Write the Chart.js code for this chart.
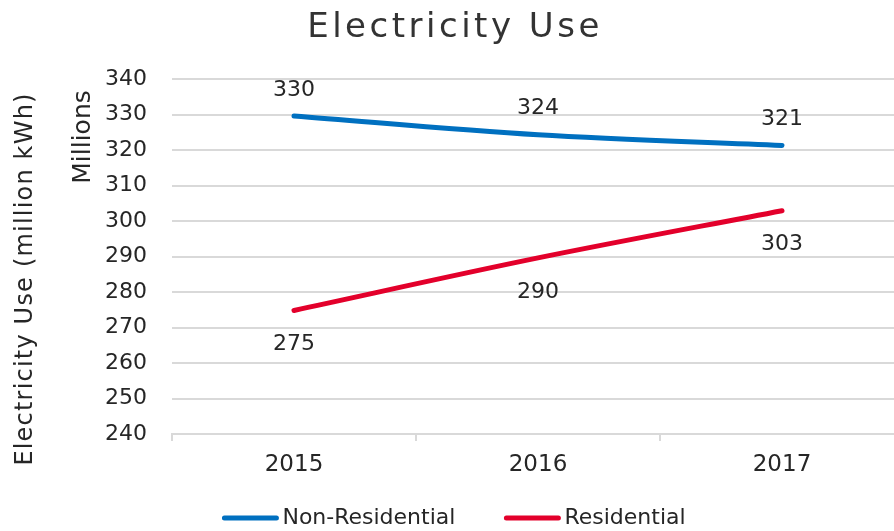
<!DOCTYPE html>
<html lang="en">
<head>
<meta charset="UTF-8">
<title>Electricity Use</title>
<script src="https://cdn.jsdelivr.net/npm/chart.js"></script>
<style>
  html, body { margin: 0; padding: 0; overflow: hidden; background: #fff; }
  #wrap { position: relative; width: 910px; height: 531px; }
</style>
</head>
<body>
<div id="wrap"><canvas id="useChart"></canvas></div>
<script>
const years = ['2015', '2016', '2017'];
const nonResidential = [329.6, 324.3, 321.3];
const residential = [274.8, 289.6, 302.9];
const seriesNames = ['Non-Residential', 'Residential'];
const seriesColors = ['#0070C0', '#E3002B'];
const yMin = 240, yMax = 340, yStep = 10;
const chartTitle = 'Electricity Use';
const axisTitle = 'Electricity Use (million kWh)';
const unitLabel = 'Millions';

const FONT = '"DejaVu Sans", sans-serif';
const TEXT = '#262626';
const GRID = '#d9d9d9';

// title, axis captions, value labels and the legend row
const extras = {
    id: 'extras',
    afterDatasetsDraw(chart) {
        const ctx = chart.ctx;
        ctx.save();
        ctx.fillStyle = TEXT;

        // value labels: above the upper line, below the lower one
        ctx.font = '22px ' + FONT;
        ctx.textAlign = 'center';
        ctx.textBaseline = 'middle';
        chart.data.datasets.forEach((ds, i) => {
            const dy = i === 0 ? -26 : 34;
            chart.getDatasetMeta(i).data.forEach((pt, j) => {
                ctx.fillText(String(Math.round(ds.data[j])), pt.x, pt.y + dy);
            });
        });

        // chart title
        ctx.save();
        ctx.fillStyle = '#333333';
        ctx.font = '34px ' + FONT;
        ctx.letterSpacing = '3.5px';
        ctx.textBaseline = 'alphabetic';
        ctx.fillText(chartTitle, chart.width / 2, 37);
        ctx.restore();

        // rotated axis title
        ctx.save();
        ctx.font = '24px ' + FONT;
        ctx.letterSpacing = '1.2px';
        ctx.textBaseline = 'alphabetic';
        ctx.translate(32, 279);
        ctx.rotate(-Math.PI / 2);
        ctx.fillText(axisTitle, 0, 0);
        ctx.restore();

        // display units caption
        ctx.save();
        ctx.font = '25px ' + FONT;
        ctx.textBaseline = 'alphabetic';
        ctx.translate(90, 137);
        ctx.rotate(-Math.PI / 2);
        ctx.fillText(unitLabel, 0, 0);
        ctx.restore();

        // legend
        ctx.font = '22px ' + FONT;
        ctx.textAlign = 'left';
        ctx.textBaseline = 'middle';
        const lineLen = 52, gapText = 6, gapItem = 51;
        const items = chart.data.datasets.map(ds => ({
            text: ds.label,
            color: ds.borderColor,
            w: lineLen + gapText + ctx.measureText(ds.label).width
        }));
        const total = items.reduce((s, it) => s + it.w, 0) + gapItem * (items.length - 1);
        let x = chart.width / 2 - total / 2;
        const y = 518;
        items.forEach(it => {
            ctx.beginPath();
            ctx.strokeStyle = it.color;
            ctx.lineWidth = 5;
            ctx.lineCap = 'round';
            ctx.moveTo(x, y);
            ctx.lineTo(x + lineLen, y);
            ctx.stroke();
            ctx.fillText(it.text, x + lineLen + gapText, y);
            x += it.w + gapItem;
        });

        ctx.restore();
    }
};

new Chart(document.getElementById('useChart'), {
    type: 'line',
    data: {
        labels: years,
        datasets: [{
            label: seriesNames[0],
            data: nonResidential,
            borderColor: seriesColors[0],
            backgroundColor: seriesColors[0]
        }, {
            label: seriesNames[1],
            data: residential,
            borderColor: seriesColors[1],
            backgroundColor: seriesColors[1]
        }]
    },
    options: {
        responsive: true,
        maintainAspectRatio: false,
        animation: false,
        layout: { padding: { top: 79, right: 6, bottom: 0, left: 0 } },
        elements: {
            line: { borderWidth: 5, tension: 0.33, borderCapStyle: 'round', borderJoinStyle: 'round', fill: false },
            point: { radius: 0, hoverRadius: 0 }
        },
        plugins: {
            legend: { display: false },
            title: { display: false },
            tooltip: { enabled: false }
        },
        scales: {
            x: {
                offset: true,
                grid: { offset: true, drawOnChartArea: false, drawTicks: true, tickLength: 7, color: GRID, lineWidth: 2 },
                border: { display: true, color: GRID, width: 2 },
                ticks: { font: { family: FONT, size: 23 }, color: TEXT, padding: 10, maxRotation: 0 },
                afterFit(scale) { scale.height = 97; }
            },
            y: {
                min: yMin,
                max: yMax,
                ticks: { stepSize: yStep, font: { family: FONT, size: 22 }, color: TEXT, padding: 25 },
                grid: { color: GRID, lineWidth: 2, drawTicks: false },
                border: { display: false },
                afterFit(scale) { scale.width = 172; }
            }
        }
    },
    plugins: [extras]
});
</script>
</body>
</html>
